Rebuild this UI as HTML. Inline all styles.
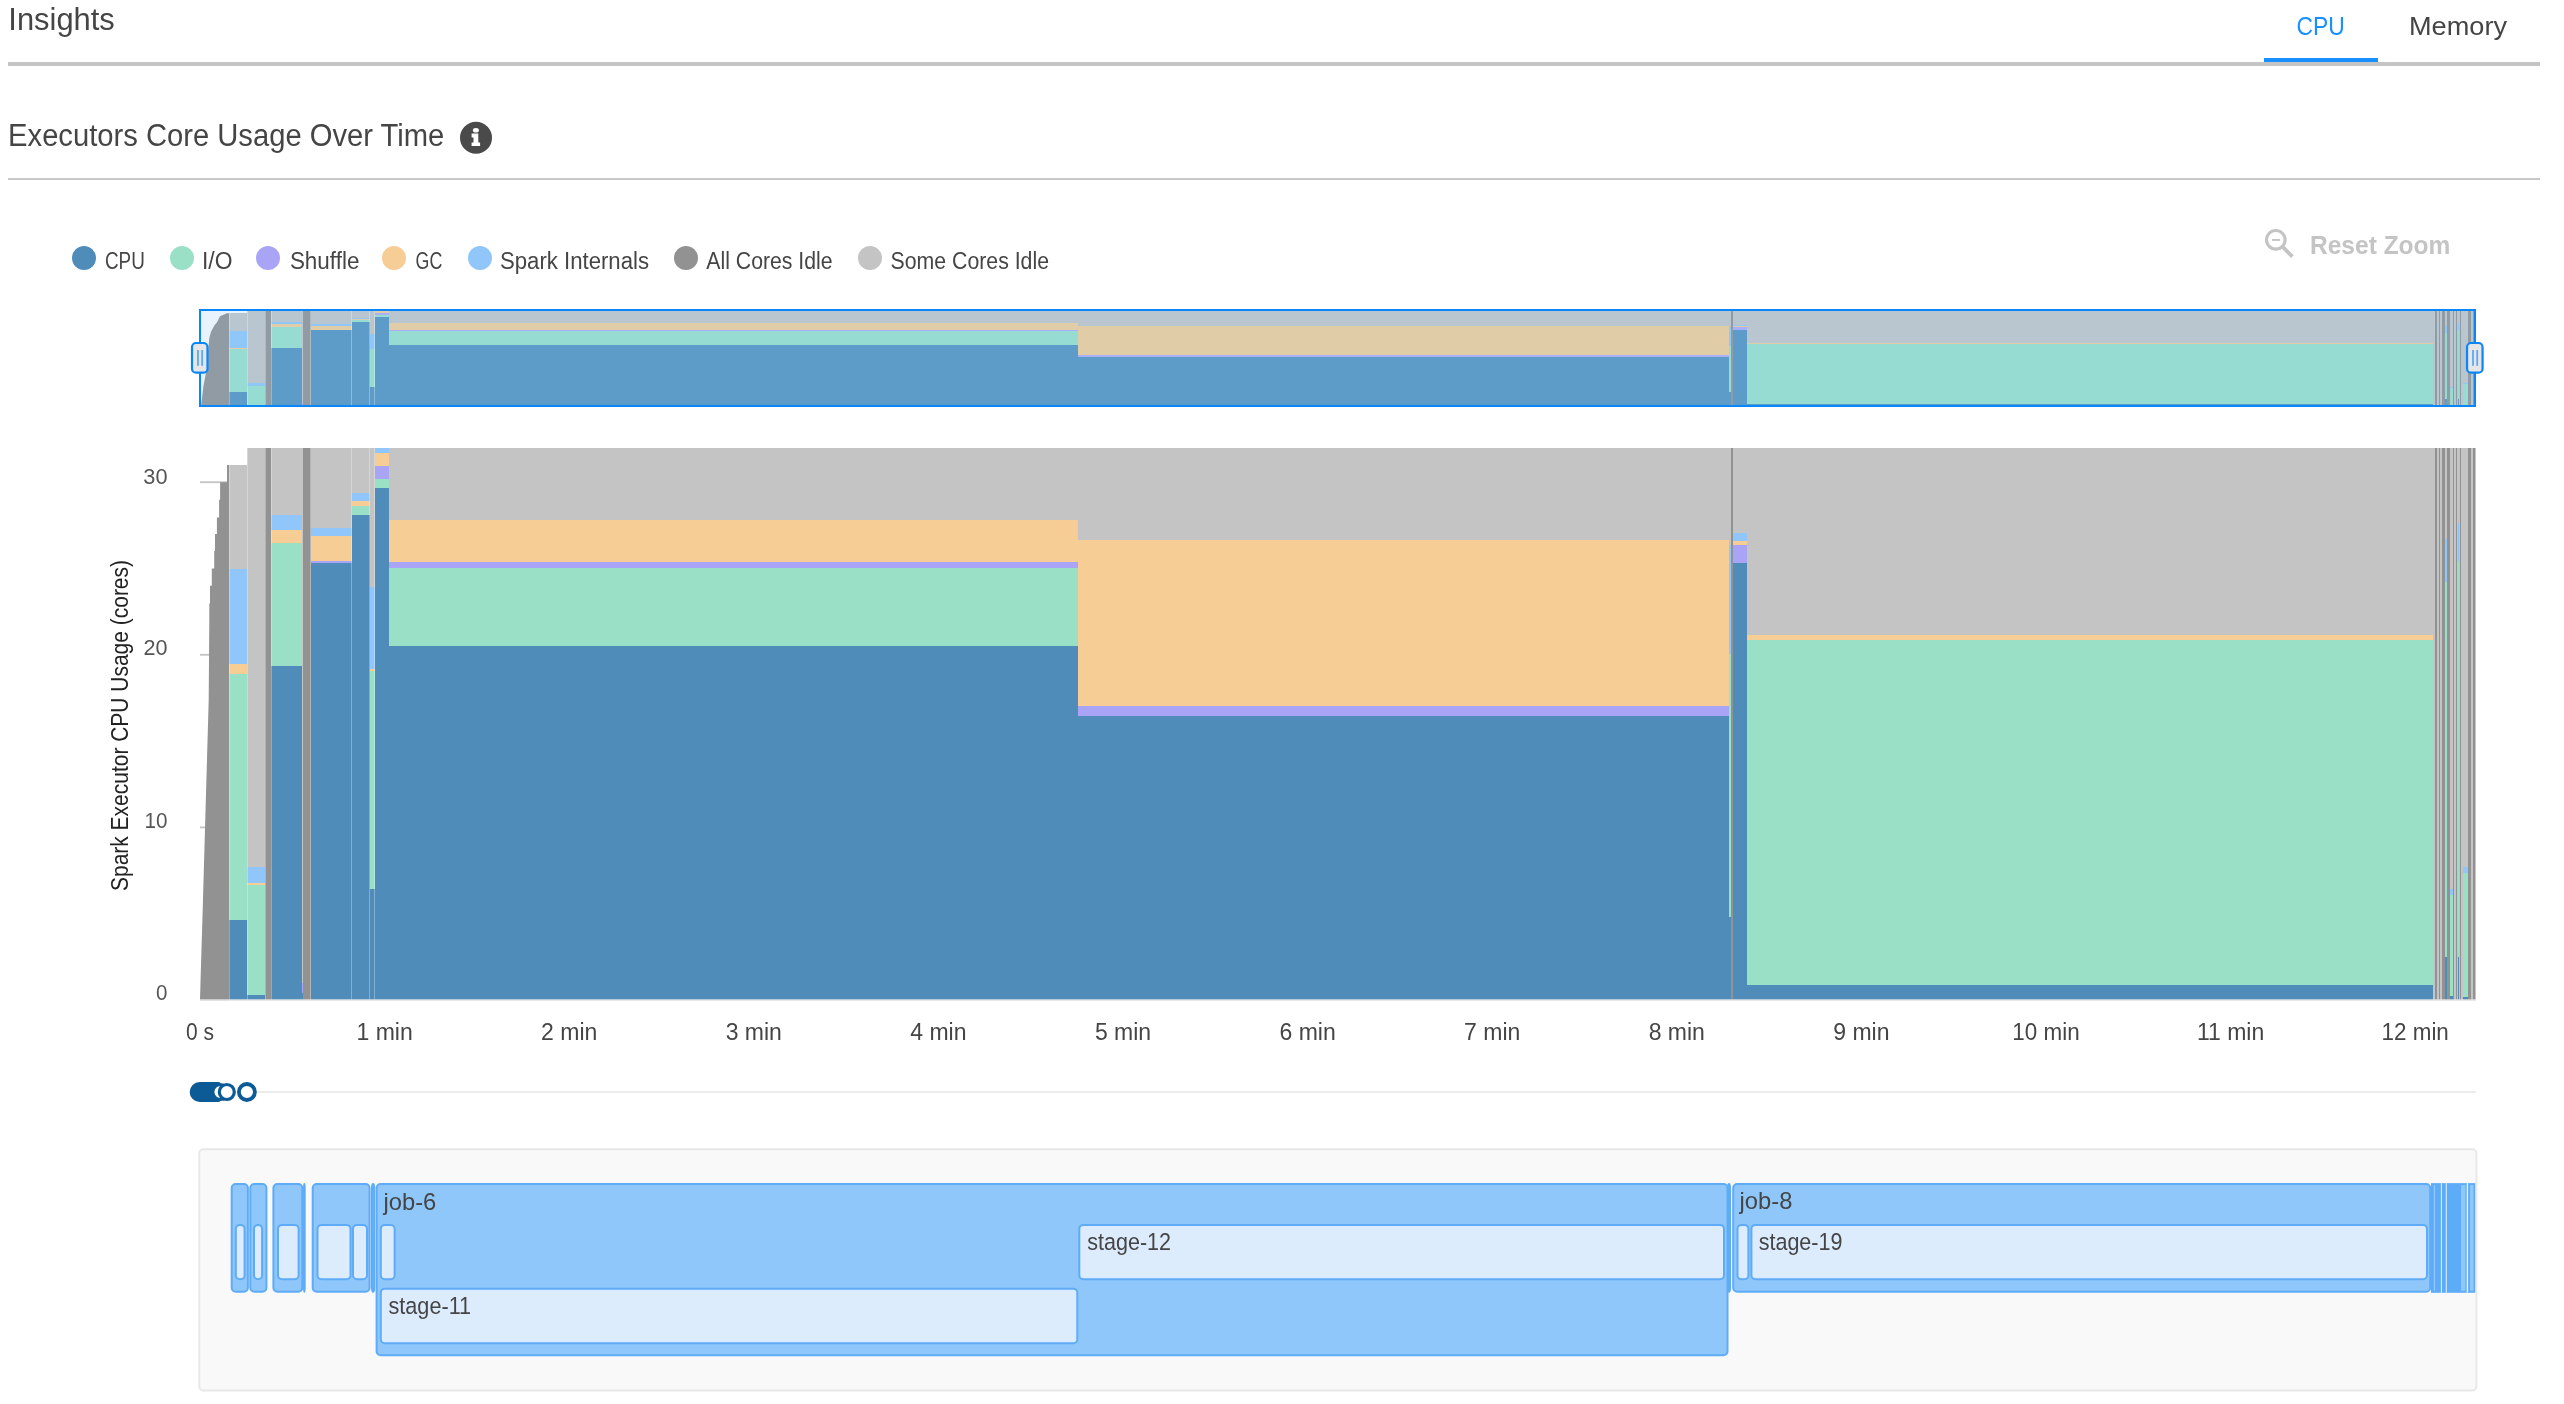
<!DOCTYPE html>
<html><head><meta charset="utf-8"><title>Insights</title>
<style>
html,body{margin:0;padding:0;background:#fff;width:2564px;height:1404px;overflow:hidden;}
svg{display:block;font-family:"Liberation Sans",sans-serif;will-change:transform;}
</style></head><body>
<svg width="2564" height="1404" viewBox="0 0 2564 1404">
<text x="8.3" y="29.9" font-size="30.5" fill="#454545" textLength="106.5" lengthAdjust="spacingAndGlyphs">Insights</text>
<text x="2296.6" y="34.6" font-size="25.6" fill="#1890ff" textLength="48.2" lengthAdjust="spacingAndGlyphs">CPU</text>
<text x="2409" y="34.6" font-size="25.6" fill="#454545" textLength="98" lengthAdjust="spacingAndGlyphs">Memory</text>
<rect x="8" y="62" width="2532" height="4" fill="#c4c4c4"/>
<rect x="2264" y="58" width="114" height="4" fill="#1890ff"/>
<text x="8.1" y="146.2" font-size="31" fill="#454545" textLength="436.2" lengthAdjust="spacingAndGlyphs">Executors Core Usage Over Time</text>
<circle cx="476" cy="137.8" r="16" fill="#4a4a4a"/>
<ellipse cx="475.9" cy="130.2" rx="3" ry="2.3" fill="#fff"/>
<path d="M471.6 133.6 h6.7 v8.9 h1.8 v3.4 h-8.5 v-3.4 h1.9 v-5 h-1.9 z" fill="#fff"/>
<rect x="8" y="178" width="2532" height="2" fill="#c8c8c8"/>
<circle cx="84" cy="258" r="12" fill="#4f8cba"/>
<text x="105" y="268.9" font-size="23.3" fill="#454545" textLength="39.8" lengthAdjust="spacingAndGlyphs">CPU</text>
<circle cx="182" cy="258" r="12" fill="#9ae0c6"/>
<text x="202" y="268.9" font-size="23.3" fill="#454545" textLength="30.5" lengthAdjust="spacingAndGlyphs">I/O</text>
<circle cx="268" cy="258" r="12" fill="#a9a4f5"/>
<text x="289.9" y="268.9" font-size="23.3" fill="#454545" textLength="69.5" lengthAdjust="spacingAndGlyphs">Shuffle</text>
<circle cx="394" cy="258" r="12" fill="#f6cd94"/>
<text x="415.6" y="268.9" font-size="23.3" fill="#454545" textLength="26.7" lengthAdjust="spacingAndGlyphs">GC</text>
<circle cx="480" cy="258" r="12" fill="#90c6fa"/>
<text x="500" y="268.9" font-size="23.3" fill="#454545" textLength="149" lengthAdjust="spacingAndGlyphs">Spark Internals</text>
<circle cx="686" cy="258" r="12" fill="#929292"/>
<text x="706.3" y="268.9" font-size="23.3" fill="#454545" textLength="126.3" lengthAdjust="spacingAndGlyphs">All Cores Idle</text>
<circle cx="870" cy="258" r="12" fill="#c4c4c4"/>
<text x="890.6" y="268.9" font-size="23.3" fill="#454545" textLength="158.4" lengthAdjust="spacingAndGlyphs">Some Cores Idle</text>
<circle cx="2275.8" cy="239.8" r="9.3" fill="none" stroke="#c4c4c4" stroke-width="3.1"/>
<rect x="2272" y="239" width="8" height="1.9" fill="#c4c4c4"/>
<path d="M2282 246.2 L2292.4 256.6" stroke="#c4c4c4" stroke-width="3.8" stroke-linecap="butt"/>
<text x="2310" y="254.2" font-size="26.5" fill="#c4c4c4" textLength="140.4" lengthAdjust="spacingAndGlyphs" font-weight="bold">Reset Zoom</text>
<rect x="200" y="311" width="2274" height="94" fill="#e8f3fd"/>
<g shape-rendering="crispEdges"><rect x="229" y="313.07" width="18" height="18.14" fill="#bac6cf"/>
<rect x="229" y="331.21" width="18" height="16.52" fill="#8fc7f8"/>
<rect x="229" y="347.73" width="18" height="1.74" fill="#e1cca8"/>
<rect x="229" y="349.47" width="18" height="42.92" fill="#97dcd2"/>
<rect x="229" y="392.39" width="18" height="14.01" fill="#5d9bc9"/>
<rect x="247" y="310.1" width="18" height="73.17" fill="#bac6cf"/>
<rect x="247" y="383.27" width="18" height="2.72" fill="#8fc7f8"/>
<rect x="247" y="385.99" width="18" height="0.26" fill="#e1cca8"/>
<rect x="247" y="386.25" width="18" height="19.28" fill="#97dcd2"/>
<rect x="247" y="405.53" width="18" height="0.87" fill="#5d9bc9"/>
<rect x="265" y="310.1" width="6.3" height="96.3" fill="#919ba3"/>
<rect x="271.3" y="310.1" width="30.2" height="11.62" fill="#bac6cf"/>
<rect x="271.3" y="321.72" width="30.2" height="2.69" fill="#8fc7f8"/>
<rect x="271.3" y="324.41" width="30.2" height="2.23" fill="#e1cca8"/>
<rect x="271.3" y="326.64" width="30.2" height="21.49" fill="#97dcd2"/>
<rect x="271.3" y="348.13" width="30.2" height="58.27" fill="#5d9bc9"/>
<rect x="301.5" y="310.1" width="1.5" height="93.33" fill="#bac6cf"/>
<rect x="301.5" y="403.43" width="1.5" height="1.74" fill="#a9b0f5"/>
<rect x="301.5" y="405.18" width="1.5" height="1.22" fill="#5d9bc9"/>
<rect x="303" y="310.1" width="7.7" height="96.3" fill="#919ba3"/>
<rect x="310.7" y="310.1" width="40.8" height="14.01" fill="#bac6cf"/>
<rect x="310.7" y="324.11" width="40.8" height="1.4" fill="#8fc7f8"/>
<rect x="310.7" y="325.5" width="40.8" height="4.26" fill="#e1cca8"/>
<rect x="310.7" y="329.76" width="40.8" height="0.33" fill="#a9b0f5"/>
<rect x="310.7" y="330.09" width="40.8" height="76.31" fill="#5d9bc9"/>
<rect x="351.5" y="310.1" width="18" height="7.82" fill="#bac6cf"/>
<rect x="351.5" y="317.92" width="18" height="1.43" fill="#8fc7f8"/>
<rect x="351.5" y="319.35" width="18" height="0.82" fill="#e1cca8"/>
<rect x="351.5" y="320.17" width="18" height="1.62" fill="#97dcd2"/>
<rect x="351.5" y="321.79" width="18" height="84.61" fill="#5d9bc9"/>
<rect x="369.5" y="310.1" width="5.3" height="24.2" fill="#bac6cf"/>
<rect x="369.5" y="334.3" width="5.3" height="14.36" fill="#8fc7f8"/>
<rect x="369.5" y="348.65" width="5.3" height="0.26" fill="#e1cca8"/>
<rect x="369.5" y="348.92" width="5.3" height="38.12" fill="#97dcd2"/>
<rect x="369.5" y="387.04" width="5.3" height="19.36" fill="#5d9bc9"/>
<rect x="374.8" y="310.1" width="14.5" height="0.92" fill="#8fc7f8"/>
<rect x="374.8" y="311.02" width="14.5" height="2.22" fill="#e1cca8"/>
<rect x="374.8" y="313.24" width="14.5" height="2.18" fill="#a9b0f5"/>
<rect x="374.8" y="315.42" width="14.5" height="1.66" fill="#97dcd2"/>
<rect x="374.8" y="317.08" width="14.5" height="89.32" fill="#5d9bc9"/>
<rect x="389.3" y="310.1" width="688.7" height="12.63" fill="#bac6cf"/>
<rect x="389.3" y="322.73" width="688.7" height="7.27" fill="#e1cca8"/>
<rect x="389.3" y="330.01" width="688.7" height="0.98" fill="#a9b0f5"/>
<rect x="389.3" y="330.98" width="688.7" height="13.66" fill="#97dcd2"/>
<rect x="389.3" y="344.64" width="688.7" height="61.76" fill="#5d9bc9"/>
<rect x="1078" y="310.1" width="650.5" height="16.07" fill="#bac6cf"/>
<rect x="1078" y="326.17" width="650.5" height="28.92" fill="#e1cca8"/>
<rect x="1078" y="355.09" width="650.5" height="1.76" fill="#a9b0f5"/>
<rect x="1078" y="356.85" width="650.5" height="49.55" fill="#5d9bc9"/>
<rect x="1728.5" y="310.1" width="2.7" height="16.89" fill="#bac6cf"/>
<rect x="1728.5" y="326.99" width="2.7" height="19.05" fill="#8fc7f8"/>
<rect x="1728.5" y="346.04" width="2.7" height="45.88" fill="#97dcd2"/>
<rect x="1728.5" y="391.92" width="2.7" height="14.48" fill="#5d9bc9"/>
<rect x="1731.2" y="310.1" width="2" height="96.3" fill="#919ba3"/>
<rect x="1733.2" y="310.1" width="13.8" height="14.83" fill="#bac6cf"/>
<rect x="1733.2" y="324.93" width="13.8" height="1.43" fill="#8fc7f8"/>
<rect x="1733.2" y="326.36" width="13.8" height="0.63" fill="#e1cca8"/>
<rect x="1733.2" y="326.99" width="13.8" height="3.18" fill="#a9b0f5"/>
<rect x="1733.2" y="330.16" width="13.8" height="76.24" fill="#5d9bc9"/>
<rect x="1747" y="310.1" width="686.1" height="32.68" fill="#bac6cf"/>
<rect x="1747" y="342.78" width="686.1" height="0.82" fill="#e1cca8"/>
<rect x="1747" y="343.6" width="686.1" height="60.22" fill="#97dcd2"/>
<rect x="1747" y="403.82" width="686.1" height="2.58" fill="#5d9bc9"/>
<rect x="2433.1" y="310.1" width="42.6" height="96.3" fill="#bac6cf"/>
<rect x="2445" y="325.98" width="2" height="7.5" fill="#8fc7f8"/>
<rect x="2445" y="333.48" width="2" height="65.42" fill="#97dcd2"/>
<rect x="2445" y="398.9" width="2" height="7.5" fill="#5d9bc9"/>
<rect x="2457.7" y="323.13" width="1.5" height="6.59" fill="#8fc7f8"/>
<rect x="2457.7" y="329.73" width="1.5" height="69.17" fill="#97dcd2"/>
<rect x="2457.7" y="398.9" width="1.5" height="7.5" fill="#5d9bc9"/>
<rect x="2450.4" y="386.95" width="2.6" height="1.13" fill="#8fc7f8"/>
<rect x="2450.4" y="388.08" width="2.6" height="17.62" fill="#97dcd2"/>
<rect x="2450.4" y="405.7" width="2.6" height="0.7" fill="#5d9bc9"/>
<rect x="2462.5" y="383.16" width="5.7" height="1.08" fill="#8fc7f8"/>
<rect x="2462.5" y="384.24" width="5.7" height="21.63" fill="#97dcd2"/>
<rect x="2462.5" y="405.88" width="5.7" height="0.52" fill="#5d9bc9"/>
<rect x="2434.7" y="310.1" width="2.5" height="96.3" fill="#919ba3"/>
<rect x="2438.9" y="310.1" width="1.3" height="96.3" fill="#919ba3"/>
<rect x="2442.1" y="310.1" width="2.6" height="96.3" fill="#919ba3"/>
<rect x="2447" y="310.1" width="2.8" height="96.3" fill="#919ba3"/>
<rect x="2453" y="310.1" width="1" height="96.3" fill="#919ba3"/>
<rect x="2456" y="310.1" width="1.2" height="96.3" fill="#919ba3"/>
<rect x="2459.8" y="310.1" width="1.5" height="96.3" fill="#919ba3"/>
<rect x="2468.4" y="310.1" width="2.6" height="96.3" fill="#919ba3"/>
<rect x="2472.9" y="310.1" width="2.5" height="96.3" fill="#919ba3"/>
<rect x="228.9" y="313.07" width="1" height="93.33" fill="#fff" opacity="0.3"/>
<rect x="246.7" y="310.1" width="1" height="96.3" fill="#fff" opacity="0.3"/>
<rect x="264.5" y="310.1" width="1" height="96.3" fill="#fff" opacity="0.3"/>
<rect x="271.2" y="310.1" width="1" height="96.3" fill="#fff" opacity="0.3"/>
<rect x="310.4" y="310.1" width="1" height="96.3" fill="#fff" opacity="0.3"/>
<rect x="351.1" y="310.1" width="1" height="96.3" fill="#fff" opacity="0.3"/>
<rect x="369" y="310.1" width="1" height="96.3" fill="#fff" opacity="0.3"/>
<rect x="374.3" y="310.1" width="1" height="96.3" fill="#fff" opacity="0.3"/>
<polygon points="200,406.4 201.2,404.7 203.4,386.3 205.5,375.2 207.5,357 209.4,337.6 211.1,331.6 214.5,325.2 217,322.2 220,316.2 226.9,313.2 229,313.2 229,406.4" fill="#919ba3" shape-rendering="geometricPrecision"/></g>
<rect x="200" y="310" width="2275" height="96" fill="none" stroke="#0a86f8" stroke-width="2"/>
<rect x="192" y="343" width="15.5" height="29.7" rx="4" fill="#e6e6e6" stroke="#0a86f8" stroke-width="2.2"/>
<rect x="197.05" y="350" width="1.8" height="15.8" fill="#5aaaf8"/>
<rect x="201.25" y="350" width="1.8" height="15.8" fill="#5aaaf8"/>
<rect x="2467.05" y="343" width="15.5" height="29.7" rx="4" fill="#e6e6e6" stroke="#0a86f8" stroke-width="2.2"/>
<rect x="2472.1" y="350" width="1.8" height="15.8" fill="#5aaaf8"/>
<rect x="2476.3" y="350" width="1.8" height="15.8" fill="#5aaaf8"/>
<rect x="200" y="999.1" width="28" height="1.8" fill="#c4c4c4"/>
<rect x="200" y="826.5" width="28" height="1.8" fill="#c4c4c4"/>
<rect x="200" y="653.9" width="28" height="1.8" fill="#c4c4c4"/>
<rect x="200" y="481.3" width="28" height="1.8" fill="#c4c4c4"/>
<g shape-rendering="crispEdges"><rect x="229" y="465" width="18" height="104" fill="#c4c4c4"/>
<rect x="229" y="569" width="18" height="94.7" fill="#90c6fa"/>
<rect x="229" y="663.7" width="18" height="10" fill="#f6cd94"/>
<rect x="229" y="673.7" width="18" height="246" fill="#9ae0c6"/>
<rect x="229" y="919.7" width="18" height="80.3" fill="#4f8cba"/>
<rect x="247" y="448" width="18" height="419.4" fill="#c4c4c4"/>
<rect x="247" y="867.4" width="18" height="15.6" fill="#90c6fa"/>
<rect x="247" y="883" width="18" height="1.5" fill="#f6cd94"/>
<rect x="247" y="884.5" width="18" height="110.5" fill="#9ae0c6"/>
<rect x="247" y="995" width="18" height="5" fill="#4f8cba"/>
<rect x="265" y="448" width="6.3" height="552" fill="#929292"/>
<rect x="271.3" y="448" width="30.2" height="66.6" fill="#c4c4c4"/>
<rect x="271.3" y="514.6" width="30.2" height="15.4" fill="#90c6fa"/>
<rect x="271.3" y="530" width="30.2" height="12.8" fill="#f6cd94"/>
<rect x="271.3" y="542.8" width="30.2" height="123.2" fill="#9ae0c6"/>
<rect x="271.3" y="666" width="30.2" height="334" fill="#4f8cba"/>
<rect x="301.5" y="448" width="1.5" height="535" fill="#c4c4c4"/>
<rect x="301.5" y="983" width="1.5" height="10" fill="#a9a4f5"/>
<rect x="301.5" y="993" width="1.5" height="7" fill="#4f8cba"/>
<rect x="303" y="448" width="7.7" height="552" fill="#929292"/>
<rect x="310.7" y="448" width="40.8" height="80.3" fill="#c4c4c4"/>
<rect x="310.7" y="528.3" width="40.8" height="8" fill="#90c6fa"/>
<rect x="310.7" y="536.3" width="40.8" height="24.4" fill="#f6cd94"/>
<rect x="310.7" y="560.7" width="40.8" height="1.9" fill="#a9a4f5"/>
<rect x="310.7" y="562.6" width="40.8" height="437.4" fill="#4f8cba"/>
<rect x="351.5" y="448" width="18" height="44.8" fill="#c4c4c4"/>
<rect x="351.5" y="492.8" width="18" height="8.2" fill="#90c6fa"/>
<rect x="351.5" y="501" width="18" height="4.7" fill="#f6cd94"/>
<rect x="351.5" y="505.7" width="18" height="9.3" fill="#9ae0c6"/>
<rect x="351.5" y="515" width="18" height="485" fill="#4f8cba"/>
<rect x="369.5" y="448" width="5.3" height="138.7" fill="#c4c4c4"/>
<rect x="369.5" y="586.7" width="5.3" height="82.3" fill="#90c6fa"/>
<rect x="369.5" y="669" width="5.3" height="1.5" fill="#f6cd94"/>
<rect x="369.5" y="670.5" width="5.3" height="218.5" fill="#9ae0c6"/>
<rect x="369.5" y="889" width="5.3" height="111" fill="#4f8cba"/>
<rect x="374.8" y="448" width="14.5" height="5.3" fill="#90c6fa"/>
<rect x="374.8" y="453.3" width="14.5" height="12.7" fill="#f6cd94"/>
<rect x="374.8" y="466" width="14.5" height="12.5" fill="#a9a4f5"/>
<rect x="374.8" y="478.5" width="14.5" height="9.5" fill="#9ae0c6"/>
<rect x="374.8" y="488" width="14.5" height="512" fill="#4f8cba"/>
<rect x="389.3" y="448" width="688.7" height="72.4" fill="#c4c4c4"/>
<rect x="389.3" y="520.4" width="688.7" height="41.7" fill="#f6cd94"/>
<rect x="389.3" y="562.1" width="688.7" height="5.6" fill="#a9a4f5"/>
<rect x="389.3" y="567.7" width="688.7" height="78.3" fill="#9ae0c6"/>
<rect x="389.3" y="646" width="688.7" height="354" fill="#4f8cba"/>
<rect x="1078" y="448" width="650.5" height="92.1" fill="#c4c4c4"/>
<rect x="1078" y="540.1" width="650.5" height="165.8" fill="#f6cd94"/>
<rect x="1078" y="705.9" width="650.5" height="10.1" fill="#a9a4f5"/>
<rect x="1078" y="716" width="650.5" height="284" fill="#4f8cba"/>
<rect x="1728.5" y="448" width="2.7" height="96.8" fill="#c4c4c4"/>
<rect x="1728.5" y="544.8" width="2.7" height="109.2" fill="#90c6fa"/>
<rect x="1728.5" y="654" width="2.7" height="263" fill="#9ae0c6"/>
<rect x="1728.5" y="917" width="2.7" height="83" fill="#4f8cba"/>
<rect x="1731.2" y="448" width="2" height="552" fill="#929292"/>
<rect x="1733.2" y="448" width="13.8" height="85" fill="#c4c4c4"/>
<rect x="1733.2" y="533" width="13.8" height="8.2" fill="#90c6fa"/>
<rect x="1733.2" y="541.2" width="13.8" height="3.6" fill="#f6cd94"/>
<rect x="1733.2" y="544.8" width="13.8" height="18.2" fill="#a9a4f5"/>
<rect x="1733.2" y="563" width="13.8" height="437" fill="#4f8cba"/>
<rect x="1747" y="448" width="686.1" height="187.3" fill="#c4c4c4"/>
<rect x="1747" y="635.3" width="686.1" height="4.7" fill="#f6cd94"/>
<rect x="1747" y="640" width="686.1" height="345.2" fill="#9ae0c6"/>
<rect x="1747" y="985.2" width="686.1" height="14.8" fill="#4f8cba"/>
<rect x="2433.1" y="448" width="42.6" height="552" fill="#c4c4c4"/>
<rect x="2445" y="539" width="2" height="43" fill="#90c6fa"/>
<rect x="2445" y="582" width="2" height="375" fill="#9ae0c6"/>
<rect x="2445" y="957" width="2" height="43" fill="#4f8cba"/>
<rect x="2457.7" y="522.7" width="1.5" height="37.8" fill="#90c6fa"/>
<rect x="2457.7" y="560.5" width="1.5" height="396.5" fill="#9ae0c6"/>
<rect x="2457.7" y="957" width="1.5" height="43" fill="#4f8cba"/>
<rect x="2450.4" y="888.5" width="2.6" height="6.5" fill="#90c6fa"/>
<rect x="2450.4" y="895" width="2.6" height="101" fill="#9ae0c6"/>
<rect x="2450.4" y="996" width="2.6" height="4" fill="#4f8cba"/>
<rect x="2462.5" y="866.8" width="5.7" height="6.2" fill="#90c6fa"/>
<rect x="2462.5" y="873" width="5.7" height="124" fill="#9ae0c6"/>
<rect x="2462.5" y="997" width="5.7" height="3" fill="#4f8cba"/>
<rect x="2434.7" y="448" width="2.5" height="552" fill="#929292"/>
<rect x="2438.9" y="448" width="1.3" height="552" fill="#929292"/>
<rect x="2442.1" y="448" width="2.6" height="552" fill="#929292"/>
<rect x="2447" y="448" width="2.8" height="552" fill="#929292"/>
<rect x="2453" y="448" width="1" height="552" fill="#929292"/>
<rect x="2456" y="448" width="1.2" height="552" fill="#929292"/>
<rect x="2459.8" y="448" width="1.5" height="552" fill="#929292"/>
<rect x="2468.4" y="448" width="2.6" height="552" fill="#929292"/>
<rect x="2472.9" y="448" width="2.5" height="552" fill="#929292"/>
<rect x="228.9" y="465" width="1" height="535" fill="#fff" opacity="0.3"/>
<rect x="246.7" y="448" width="1" height="552" fill="#fff" opacity="0.3"/>
<rect x="264.5" y="448" width="1" height="552" fill="#fff" opacity="0.3"/>
<rect x="271.2" y="448" width="1" height="552" fill="#fff" opacity="0.3"/>
<rect x="310.4" y="448" width="1" height="552" fill="#fff" opacity="0.3"/>
<rect x="351.1" y="448" width="1" height="552" fill="#fff" opacity="0.3"/>
<rect x="369" y="448" width="1" height="552" fill="#fff" opacity="0.3"/>
<rect x="374.3" y="448" width="1" height="552" fill="#fff" opacity="0.3"/>
<polygon points="200,1000 200.5,982 202.6,912.8 205.1,825.6 208.7,700 209.3,621.5 209.3,603.5 210,603.5 210,585.8 211.8,585.8 211.8,568.5 214.2,568.5 214.2,551 215,551 215,534 216.9,534 216.9,517.4 219.1,517.4 219.1,499.8 220.1,499.8 220.1,482.2 227,482.2 227,465 229,465 229,1000" fill="#929292" shape-rendering="geometricPrecision"/></g>
<rect x="200" y="999.3" width="2276" height="1.6" fill="#e6e6e6"/>
<text x="167.5" y="483.5" font-size="22.5" fill="#555555" textLength="24.2" lengthAdjust="spacingAndGlyphs" text-anchor="end">30</text>
<text x="167.5" y="655.4" font-size="22.5" fill="#555555" textLength="24" lengthAdjust="spacingAndGlyphs" text-anchor="end">20</text>
<text x="167.5" y="828.4" font-size="22.5" fill="#555555" textLength="23" lengthAdjust="spacingAndGlyphs" text-anchor="end">10</text>
<text x="167.5" y="1000" font-size="22.5" fill="#555555" textLength="11.4" lengthAdjust="spacingAndGlyphs" text-anchor="end">0</text>
<text x="0" y="0" font-size="23" fill="#222" textLength="331" lengthAdjust="spacingAndGlyphs" transform="translate(127.8,891) rotate(-90)">Spark Executor CPU Usage (cores)</text>
<text x="200" y="1040" font-size="23" fill="#454545" textLength="28" lengthAdjust="spacingAndGlyphs" text-anchor="middle">0 s</text>
<text x="384.6" y="1040" font-size="23" fill="#454545" text-anchor="middle">1 min</text>
<text x="569.2" y="1040" font-size="23" fill="#454545" text-anchor="middle">2 min</text>
<text x="753.8" y="1040" font-size="23" fill="#454545" text-anchor="middle">3 min</text>
<text x="938.4" y="1040" font-size="23" fill="#454545" text-anchor="middle">4 min</text>
<text x="1123" y="1040" font-size="23" fill="#454545" text-anchor="middle">5 min</text>
<text x="1307.6" y="1040" font-size="23" fill="#454545" text-anchor="middle">6 min</text>
<text x="1492.2" y="1040" font-size="23" fill="#454545" text-anchor="middle">7 min</text>
<text x="1676.8" y="1040" font-size="23" fill="#454545" text-anchor="middle">8 min</text>
<text x="1861.4" y="1040" font-size="23" fill="#454545" text-anchor="middle">9 min</text>
<text x="2046" y="1040" font-size="23" fill="#454545" textLength="67.3" lengthAdjust="spacingAndGlyphs" text-anchor="middle">10 min</text>
<text x="2230.6" y="1040" font-size="23" fill="#454545" textLength="67.3" lengthAdjust="spacingAndGlyphs" text-anchor="middle">11 min</text>
<text x="2415.2" y="1040" font-size="23" fill="#454545" textLength="67.3" lengthAdjust="spacingAndGlyphs" text-anchor="middle">12 min</text>
<rect x="250" y="1091.3" width="2226" height="1.5" fill="#e6e6e6"/>
<rect x="199.7" y="1082" width="20" height="20" fill="#0c5a96"/>
<circle cx="199.7" cy="1092" r="10" fill="#0c5a96"/>
<circle cx="220.3" cy="1092" r="7.5" fill="#fff" stroke="#0c5a96" stroke-width="3.2"/>
<circle cx="226.8" cy="1092" r="7.5" fill="#fff" stroke="#0c5a96" stroke-width="3.2"/>
<circle cx="246.9" cy="1092" r="8" fill="#fff" stroke="#0c5a96" stroke-width="3.8"/>
<rect x="199.3" y="1149.3" width="2277.1" height="241.2" rx="4" fill="#f9f9f9" stroke="#e8e8e8" stroke-width="2"/>
<rect x="231.7" y="1184.1" width="16.2" height="107.7" rx="4" fill="#90c7fb" stroke="#5eacf8" stroke-width="2"/>
<rect x="250.3" y="1184.1" width="16.1" height="107.7" rx="4" fill="#90c7fb" stroke="#5eacf8" stroke-width="2"/>
<rect x="273.4" y="1184.1" width="28.9" height="107.7" rx="4" fill="#90c7fb" stroke="#5eacf8" stroke-width="2"/>
<rect x="304" y="1184.1" width="0.7" height="107.7" rx="4" fill="#90c7fb" stroke="#5eacf8" stroke-width="2"/>
<rect x="312.7" y="1184.1" width="56.9" height="107.7" rx="4" fill="#90c7fb" stroke="#5eacf8" stroke-width="2"/>
<rect x="372" y="1184.1" width="2.2" height="107.7" rx="4" fill="#90c7fb" stroke="#5eacf8" stroke-width="2"/>
<rect x="376.6" y="1184.1" width="1350.9" height="171.2" rx="4" fill="#90c7fb" stroke="#5eacf8" stroke-width="2"/>
<rect x="1728" y="1184.1" width="2" height="107.7" rx="4" fill="#90c7fb" stroke="#5eacf8" stroke-width="2"/>
<rect x="1733.2" y="1184.1" width="697" height="107.7" rx="4" fill="#90c7fb" stroke="#5eacf8" stroke-width="2"/>
<rect x="2431" y="1183.1" width="44.2" height="109.7" fill="#5eacf8"/>
<rect x="2433.8" y="1185.1" width="1.3" height="105.7" fill="#90c7fb"/>
<rect x="2440.9" y="1183.1" width="0.9" height="109.7" fill="#f4f9fe"/>
<rect x="2445.8" y="1183.1" width="0.9" height="109.7" fill="#f4f9fe"/>
<rect x="2461" y="1185.1" width="4.4" height="105.7" fill="#90c7fb"/>
<rect x="2466.7" y="1183.1" width="1.4" height="109.7" fill="#e6f1fd"/>
<rect x="2470" y="1185.1" width="3.5" height="105.7" fill="#90c7fb"/>
<rect x="235.8" y="1224.9" width="8.8" height="54.3" rx="4" fill="#dcecfd" stroke="#5eacf8" stroke-width="2"/>
<rect x="254" y="1224.9" width="8.1" height="54.3" rx="4" fill="#dcecfd" stroke="#5eacf8" stroke-width="2"/>
<rect x="278" y="1224.9" width="20.6" height="54.3" rx="4" fill="#dcecfd" stroke="#5eacf8" stroke-width="2"/>
<rect x="317.5" y="1224.9" width="33" height="54.3" rx="4" fill="#dcecfd" stroke="#5eacf8" stroke-width="2"/>
<rect x="353" y="1224.9" width="14" height="54.3" rx="4" fill="#dcecfd" stroke="#5eacf8" stroke-width="2"/>
<rect x="380.8" y="1224.9" width="13.8" height="54.3" rx="4" fill="#dcecfd" stroke="#5eacf8" stroke-width="2"/>
<rect x="1079.3" y="1224.9" width="644.7" height="54.3" rx="4" fill="#dcecfd" stroke="#5eacf8" stroke-width="2"/>
<rect x="380.8" y="1288.8" width="696.5" height="54.5" rx="4" fill="#dcecfd" stroke="#5eacf8" stroke-width="2"/>
<rect x="1737.5" y="1224.9" width="10.9" height="54.3" rx="4" fill="#dcecfd" stroke="#5eacf8" stroke-width="2"/>
<rect x="1751.4" y="1224.9" width="675.6" height="54.3" rx="4" fill="#dcecfd" stroke="#5eacf8" stroke-width="2"/>
<text x="383.5" y="1210" font-size="23.7" fill="#454545" textLength="52.8" lengthAdjust="spacingAndGlyphs">job-6</text>
<text x="1739.6" y="1209.4" font-size="23.7" fill="#454545" textLength="52.8" lengthAdjust="spacingAndGlyphs">job-8</text>
<text x="1087.2" y="1250" font-size="23.7" fill="#454545" textLength="83.9" lengthAdjust="spacingAndGlyphs">stage-12</text>
<text x="388.5" y="1314" font-size="23.7" fill="#454545" textLength="82.6" lengthAdjust="spacingAndGlyphs">stage-11</text>
<text x="1758.7" y="1250" font-size="23.7" fill="#454545" textLength="83.7" lengthAdjust="spacingAndGlyphs">stage-19</text>
</svg>
</body></html>
